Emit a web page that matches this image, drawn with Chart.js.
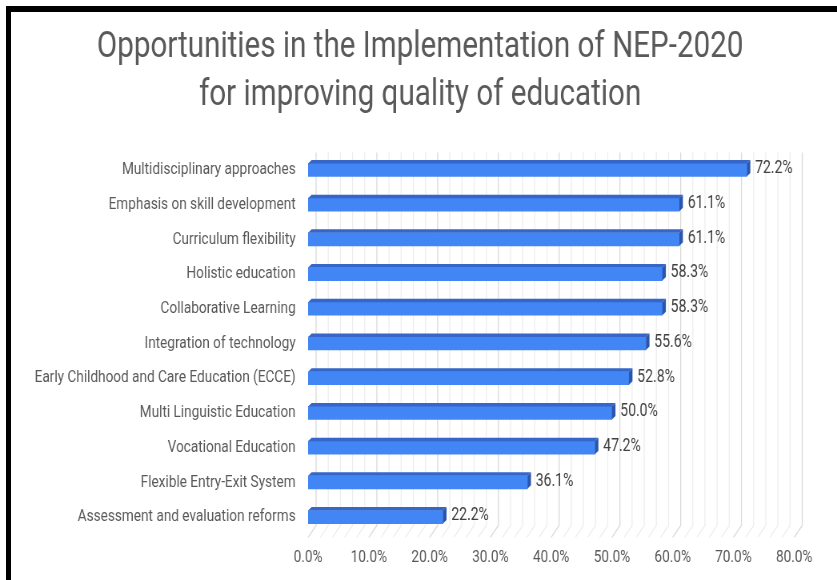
<!DOCTYPE html>
<html>
<head>
<meta charset="utf-8">
<script src="https://cdn.jsdelivr.net/npm/chart.js@4.4.1/dist/chart.umd.min.js"></script>
<style>
  html, body { margin: 0; padding: 0; background: #fff; overflow: hidden; }
  #wrap { position: relative; width: 837px; height: 580px; overflow: hidden; }
  #frame { position: absolute; left: 6px; top: 6px; right: 0; bottom: 0;
           border-left: 5px solid #000; border-top: 6px solid #000; pointer-events: none; }
  /* the source picture is squeezed sideways, so the whole chart is drawn wide and squeezed */
  canvas { position: absolute; left: 0; top: 0; transform: scaleX(0.8002); transform-origin: 0 0; }
</style>
</head>
<body>
<div id="wrap">
  <canvas id="barChart" width="1046" height="580"></canvas>
  <div id="frame"></div>
</div>
<script>
// chart data
const categories = [
    'Multidisciplinary approaches',
    'Emphasis on skill development',
    'Curriculum flexibility',
    'Holistic education',
    'Collaborative Learning',
    'Integration of technology',
    'Early Childhood and Care Education (ECCE)',
    'Multi Linguistic Education',
    'Vocational Education',
    'Flexible Entry-Exit System',
    'Assessment and evaluation reforms'
];
const percentages = [72.2, 61.1, 61.1, 58.3, 58.3, 55.6, 52.8, 50.0, 47.2, 36.1, 22.2];
const axisMax = 80;
const tickStep = 10;
const minorStep = 2;

const titleLines = ['Opportunities in the Implementation of NEP-2020', 'for improving quality of education'];

// depth of the fake 3D (canvas units, x is squeezed by css)
const WALL_X = 10, WALL_Y = 11;
const BAR_D = 4.4, BAR_DY = 3.5;

// back wall + floor grid
const wallGrid = {
    id: 'wallGrid',
    beforeDatasetsDraw(chart) {
        const { ctx, chartArea } = chart;
        const xs = chart.scales.x;
        ctx.save();
        ctx.lineWidth = 1.25;
        for (let v = 0; v <= axisMax; v += minorStep) {
            const x = xs.getPixelForValue(v);
            ctx.strokeStyle = v % tickStep === 0 ? '#d9d9d9' : '#ededed';
            ctx.beginPath();
            ctx.moveTo(x + WALL_X, chartArea.top);
            ctx.lineTo(x + WALL_X, chartArea.bottom - WALL_Y + 2);
            ctx.lineTo(x, chartArea.bottom + 3);
            ctx.stroke();
        }
        ctx.restore();
    }
};

// top/side faces of the bars and value labels
const barFaces = {
    id: 'barFaces',
    afterDatasetsDraw(chart) {
        const { ctx } = chart;
        const meta = chart.getDatasetMeta(0);
        ctx.save();
        meta.data.forEach((bar, i) => {
            const p = bar.getProps(['x', 'y', 'base', 'height'], true);
            const top = p.y - p.height / 2;
            const bot = p.y + p.height / 2;
            ctx.fillStyle = '#3566c8';
            ctx.beginPath();
            ctx.moveTo(p.base, top);
            ctx.lineTo(p.base + BAR_D, top - BAR_DY);
            ctx.lineTo(p.x + BAR_D, top - BAR_DY);
            ctx.lineTo(p.x, top);
            ctx.closePath();
            ctx.fill();
            ctx.fillStyle = '#2a55ad';
            ctx.beginPath();
            ctx.moveTo(p.x, top);
            ctx.lineTo(p.x + BAR_D, top - BAR_DY);
            ctx.lineTo(p.x + BAR_D, bot - BAR_DY);
            ctx.lineTo(p.x, bot);
            ctx.closePath();
            ctx.fill();

            ctx.fillStyle = '#404040';
            ctx.font = '17.5px Roboto';
            ctx.textAlign = 'left';
            ctx.textBaseline = 'middle';
            ctx.fillText(percentages[i].toFixed(1) + '%', p.x + BAR_D + 6, p.y - 1);
        });
        ctx.restore();
    }
};

// keep the title centred on the whole picture, not between the paddings
const centreTitle = {
    id: 'centreTitle',
    afterLayout(chart) {
        chart.titleBlock.left = 4;
        chart.titleBlock.right = chart.width;
    }
};

new Chart(document.getElementById('barChart').getContext('2d'), {
    type: 'bar',
    data: {
        labels: categories,
        datasets: [{
            data: percentages,
            backgroundColor: '#4285f4',
            borderWidth: 0,
            barThickness: 13
        }]
    },
    options: {
        indexAxis: 'y',
        responsive: false,
        animation: false,
        layout: { padding: { left: 0, right: 53.5, top: 0, bottom: 15 } },
        plugins: {
            legend: { display: false },
            tooltip: { enabled: false },
            title: {
                display: true,
                text: titleLines,
                color: '#595959',
                font: { family: 'Roboto', size: 37, weight: 'normal', lineHeight: 48 / 37 },
                padding: { top: 24, bottom: 32.6 }
            }
        },
        scales: {
            x: {
                min: 0,
                max: axisMax,
                grid: { display: false, drawTicks: false },
                border: { display: false },
                ticks: {
                    stepSize: tickStep,
                    color: '#595959',
                    font: { family: 'Roboto', size: 17 },
                    padding: 13.4,
                    maxRotation: 0,
                    callback: v => v.toFixed(1) + '%'
                },
                afterFit(scale) { scale.height = 30.6; }
            },
            y: {
                grid: { display: false },
                border: { display: false },
                ticks: {
                    color: '#595959',
                    font: { family: 'Roboto', size: 17 },
                    padding: 7.5
                },
                afterFit(scale) { scale.width = 385; }
            }
        }
    },
    plugins: [wallGrid, barFaces, centreTitle]
});
</script>
</body>
</html>
